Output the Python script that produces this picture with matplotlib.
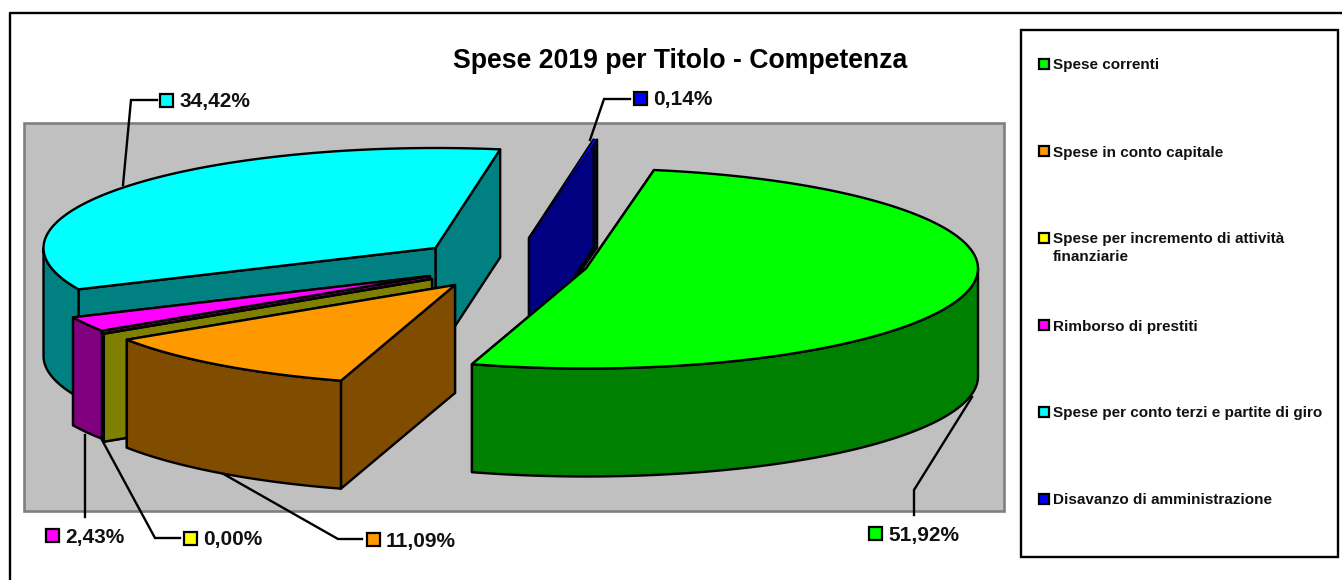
import numpy as np
import matplotlib
matplotlib.use("Agg")
import matplotlib.pyplot as plt
from matplotlib.patches import Polygon, Rectangle

title = "Spese 2019 per Titolo - Competenza"
categories = ["Spese correnti", "Spese in conto capitale",
              "Spese per incremento di attività\nfinanziarie", "Rimborso di prestiti",
              "Spese per conto terzi e partite di giro", "Disavanzo di amministrazione"]
values = [51.92, 11.09, 0.00, 2.43, 34.42, 0.14]
top_colors = ["#00FF00", "#FF9900", "#FFFF00", "#FF00FF", "#00FFFF", "#0000FF"]
side_colors = ["#008000", "#7F4C00", "#808000", "#800080", "#008080", "#000080"]

# layout (pixels of the 1342x580 canvas)
RX, RY, DEPTH = 392, 100, 108
START = 10.0
apex = [(586, 268.5), (455, 285), (432, 279), (430, 276), (435.5, 248), (529, 238)]
paint_order = [4, 5, 3, 2, 1, 0]
key_xy = [(875, 533), (373, 539), (190, 538), (52, 535), (166, 100), (640, 98)]
leaders = [[(972, 397), (914, 490), (914, 515)],
           [(220, 472), (338, 539), (362, 539)],
           [(102, 440), (155, 538), (180, 538)],
           [(85, 435), (85, 517)],
           [(123, 185), (131, 100), (157, 100)],
           [(590, 140), (604, 99), (630, 99)]]
legend_y = [63.5, 151, 238, 325, 412, 499]

LW = 1.7
FONT = "Liberation Sans"

fig = plt.figure(figsize=(13.42, 5.8), dpi=100)
ax = fig.add_axes([0, 0, 1, 1])
ax.set_xlim(0, 1342)
ax.set_ylim(580, 0)
ax.axis("off")

# chart frame (clipped on the right and bottom in the source)
ax.plot([10, 10, 1342], [580, 13, 13], color="black", lw=1.7, zorder=1, clip_on=False)
# plot area
ax.add_patch(Rectangle((24, 123), 980, 388, fc="#C0C0C0", ec="#808080", lw=1.9, zorder=1))
# legend box
ax.add_patch(Rectangle((1021, 30), 317, 527, fc="white", ec="black", lw=1.7, zorder=1))

for pts in leaders:
    ax.plot(*zip(*pts), color="black", lw=LW, zorder=2, solid_joinstyle="miter")


def rim(c, t):
    t = np.radians(t)
    return np.column_stack([c[0] + RX * np.sin(t), c[1] - RY * np.cos(t)])


def face(pts, fc, z, lw=LW):
    ax.add_patch(Polygon(pts, closed=True, fc=fc, ec="black", lw=lw, zorder=z, joinstyle="round"))


edges = START + np.concatenate([[0], np.cumsum(values)]) * 3.6
z = 3
for i in paint_order:
    c, a0, a1 = apex[i], edges[i], edges[i + 1]
    arc = rim(c, np.linspace(a0, a1, 200))
    for p in (arc[-1], arc[0]):
        face([c, p, (p[0], p[1] + DEPTH), (c[0], c[1] + DEPTH)], side_colors[i], z)
        z += 0.01
    lo, hi = max(a0, 90), min(a1, 270)
    if hi > lo:
        front = rim(c, np.linspace(lo, hi, 200))
        down = front[::-1] + [0, DEPTH]
        face(np.vstack([front, down]), side_colors[i], z)
        z += 0.01
    face(np.vstack([[c], arc]), top_colors[i], z, lw=0.7 if 0 < values[i] < 1 else LW)
    z += 0.01

ax.text(680.5, 61, title, ha="center", va="center", fontsize=19.2, fontweight="bold",
        family=FONT, zorder=10)

for v, (kx, ky), col in zip(values, key_xy, top_colors):
    ax.add_patch(Rectangle((kx - 6.5, ky - 6.5), 13, 13, fc=col, ec="black", lw=1.6, zorder=10))
    ax.text(kx + 13, ky, f"{v:.2f}".replace(".", ",") + "%", ha="left", va="center_baseline",
            fontsize=15, fontweight="bold", family=FONT, color="#111111", zorder=10)

for name, y, col in zip(categories, legend_y, top_colors):
    ax.add_patch(Rectangle((1039, y - 5), 10, 10, fc=col, ec="black", lw=1.6, zorder=10))
    ax.text(1053, y - 5.5, name, ha="left", va="top", fontsize=11, fontweight="bold",
            family=FONT, color="#111111", linespacing=1.35, zorder=10)

fig.savefig("out.png", dpi=100, facecolor="white")
